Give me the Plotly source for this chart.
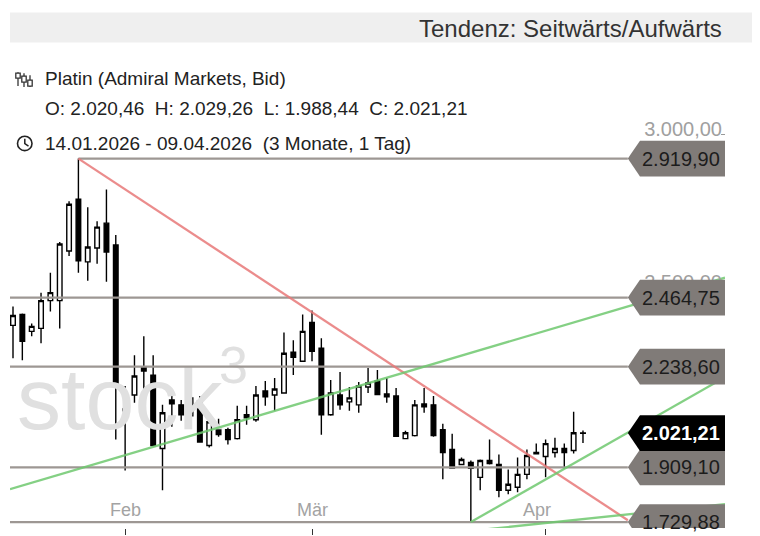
import plotly.graph_objects as go

# ---------------- data ----------------
idx = list(range(62))
opens = [2373.7, 2409.4, 2354.2, 2363.9, 2455.0, 2455.0, 2617.5, 2786.6, 2581.8, 2627.3,
         2708.6, 2637.1, 2100.6, 2146.1, 2237.1, 2211.1, 1970.5, 2129.8, 2113.6, 2077.8,
         2126.6, 1980.3, 2035.5, 2032.3, 2003.0, 2081.1, 2064.8, 2159.1, 2146.1, 2152.6,
         2285.9, 2256.6, 2383.4, 2298.9, 2081.1, 2146.1, 2123.3, 2113.6, 2172.1, 2191.6,
         2149.3, 2142.8, 2003.0, 2012.8, 2116.8, 2113.6, 2032.3, 1967.3, 1918.5, 1925.0,
         1876.2, 1931.5, 1918.5, 1834.0, 1843.7, 1886.0, 1957.5, 1944.5, 1957.5, 1970.5,
         1964.0, 2020.46]
highs = [2435.5, 2412.7, 2380.2, 2481.0, 2546.0, 2646.8, 2780.1, 2919.90, 2760.6, 2715.1,
         2819.1, 2669.6, 2175.4, 2276.1, 2337.9, 2276.1, 2113.6, 2146.1, 2129.8, 2194.9,
         2142.8, 2087.6, 2068.1, 2038.8, 2110.3, 2110.3, 2175.4, 2191.6, 2201.4, 2350.9,
         2324.9, 2409.4, 2422.5, 2331.4, 2194.9, 2220.9, 2172.1, 2188.4, 2233.9, 2227.4,
         2201.4, 2168.9, 2029.0, 2129.8, 2168.9, 2142.8, 2051.8, 2019.3, 1941.3, 1931.5,
         1934.8, 1999.8, 1951.0, 1902.2, 1941.3, 1967.3, 1986.8, 1999.8, 2006.3, 1986.8,
         2090.8, 2029.26]
lows = [2266.4, 2259.9, 2337.9, 2315.2, 2419.2, 2363.9, 2601.3, 2546.0, 2520.0, 2575.3,
        2516.8, 1999.8, 1899.0, 2120.1, 2162.4, 1978.0, 1834.0, 2042.0, 2061.6, 2071.3,
        1990.0, 1973.8, 2009.5, 1983.5, 1999.8, 2048.6, 2058.3, 2110.3, 2094.1, 2150.0,
        2211.1, 2254.0, 2256.6, 2016.0, 2078.0, 2097.3, 2094.1, 2087.6, 2152.6, 2146.1,
        2120.1, 2009.5, 2001.0, 2010.0, 2087.6, 2009.5, 1869.7, 1905.5, 1917.0, 1729.88,
        1834.0, 1918.5, 1811.2, 1820.9, 1827.4, 1869.7, 1951.0, 1876.2, 1941.3, 1905.5,
        1954.3, 1988.44]
closes = [2406.2, 2321.7, 2370.4, 2455.0, 2481.0, 2640.3, 2770.4, 2585.0, 2630.6, 2695.6,
          2614.3, 2178.6, 2094.1, 2207.9, 2224.1, 1980.3, 2087.6, 2116.8, 2081.1, 2136.3,
          1992.0, 2058.3, 2016.0, 1999.8, 2064.8, 2071.3, 2146.1, 2139.6, 2165.6, 2282.7,
          2269.6, 2354.2, 2289.2, 2081.1, 2152.6, 2113.6, 2136.3, 2175.4, 2185.1, 2147.0,
          2139.6, 2011.0, 2022.5, 2113.6, 2107.1, 2012.8, 1957.5, 1907.0, 1934.8, 1905.5,
          1931.5, 1921.8, 1834.0, 1853.5, 1886.0, 1947.8, 1953.0, 1986.8, 1970.5, 1957.5,
          2022.5, 2021.21]

month_tick_idx = [12, 32, 57]
month_label_idx = [12.0, 32.0, 56.1]
month_labels = ["Feb", "Mär", "Apr"]

levels = [2919.90, 2464.75, 2238.60, 1909.10, 1729.88]
level_labels = ["2.919,90", "2.464,75", "2.238,60", "1.909,10", "1.729,88"]
level_start_idx = [7, -0.32, -0.32, -0.32, -0.32]
last_price = 2021.21
last_label = "2.021,21"

red_x = [7, 65.8]
red_y = [2919.90, 1736.0]
green1_x = [-0.32, 76.2]
green1_y = [1837.2, 2530.0]
green2_x = [49, 76.2]
green2_y = [1729.88, 2204.0]
green3_x = [40, 76.2]
green3_y = [1671.8, 1788.4]

axis_ticks = [2000, 2500, 3000]

title_text = "Tendenz: Seitwärts/Aufwärts"
legend_1 = "Platin (Admiral Markets, Bid)"
legend_2 = "O: 2.020,46\u00a0\u00a0H: 2.029,26\u00a0\u00a0L: 1.988,44\u00a0\u00a0C: 2.021,21"
legend_3 = "14.01.2026 - 09.04.2026\u00a0\u00a0(3 Monate, 1 Tag)"
watermark_main = "stock"
watermark_sup = "3"

# ---------------- layout geometry ----------------
# page body has an 8px margin, so the figure is 8px smaller and every
# reference position is shifted by that amount.
W, H = 752, 528
ML, MR, MT, MB = 2, 35, 92, 5
X0, X1 = -0.321, 76.199
Y0, Y1 = 1710.4, 3111.75
TIP = 65.8
TAG_L = 67.1
PX_PRICE = (Y1 - Y0) / (H - MT - MB)  # price per px
TAG_H = 18 * PX_PRICE

SANS = "Liberation Sans, Arial, sans-serif"

def pxx(px):  # reference-pixel x -> paper
    return (px - 10) / 715.0

def pxy(py):  # reference-pixel y -> paper
    return (531 - py) / 431.0

def ppx(px):  # reference-pixel x -> data x
    return (px - 13) / 9.344

def ppy(py):  # reference-pixel y -> data y
    return 3436.87 - 3.2514 * py

fig = go.Figure()

# watermark (below everything)
fig.add_trace(go.Scatter(
    x=[ppx(17)], y=[ppy(409)], mode="text", text=[watermark_main],
    textposition="middle right",
    textfont=dict(family=SANS, size=88, color="#e0e0e0"),
    hoverinfo="skip", showlegend=False))
fig.add_trace(go.Scatter(
    x=[ppx(219)], y=[ppy(372)], mode="text", text=[watermark_sup],
    textposition="middle right",
    textfont=dict(family=SANS, size=52, color="#e0e0e0"),
    hoverinfo="skip", showlegend=False))

# horizontal levels
for lv, sx in zip(levels, level_start_idx):
    fig.add_trace(go.Scatter(x=[sx, TIP], y=[lv, lv], mode="lines",
                             line=dict(color="#9d9793", width=2.2),
                             hoverinfo="skip", showlegend=False))

# trend lines
for xs, ys, col in [(red_x, red_y, "rgba(232,120,120,0.85)"),
                    (green1_x, green1_y, "rgba(110,200,110,0.85)"),
                    (green2_x, green2_y, "rgba(110,200,110,0.85)"),
                    (green3_x, green3_y, "rgba(110,200,110,0.85)")]:
    fig.add_trace(go.Scatter(x=xs, y=ys, mode="lines",
                             line=dict(color=col, width=2.3),
                             hoverinfo="skip", showlegend=False))

fig.add_trace(go.Candlestick(
    x=idx, open=opens, high=highs, low=lows, close=closes,
    increasing=dict(fillcolor="white", line=dict(color="black", width=1.4)),
    decreasing=dict(fillcolor="black", line=dict(color="black", width=1.4)),
    whiskerwidth=0, showlegend=False, hoverinfo="skip"))

shapes = []
annotations = []

# price tags
def tag(y, fill, text, fcolor, bold=False):
    path = (f"M {TIP},{y} L {TAG_L},{y + TAG_H} L {X1},{y + TAG_H} "
            f"L {X1},{y - TAG_H} L {TAG_L},{y - TAG_H} Z")
    shapes.append(dict(type="path", xref="x", yref="y", path=path,
                       fillcolor=fill, line=dict(width=0), layer="above"))
    annotations.append(dict(x=ppx(681), y=y, xref="x", yref="y",
                            text=(f"<b>{text}</b>" if bold else text),
                            showarrow=False, xanchor="center", yanchor="middle",
                            font=dict(family=SANS, size=20, color=fcolor)))

for lv, lab in zip(levels, level_labels):
    tag(lv, "#807b78", lab, "#1c1c1c")
tag(last_price, "#000000", last_label, "#ffffff", bold=True)

# header band
shapes.append(dict(type="rect", xref="paper", yref="paper",
                   x0=pxx(10), x1=pxx(752), y0=pxy(42), y1=pxy(12),
                   fillcolor="#efefef", line=dict(width=0), layer="above"))
annotations.append(dict(x=pxx(724), y=pxy(28), xref="paper", yref="paper",
                        text=title_text, showarrow=False, xanchor="right", yanchor="middle",
                        font=dict(family=SANS, size=24, color="#333333")))

# legend texts
for txt, py in [(legend_1, 78), (legend_2, 109), (legend_3, 144)]:
    annotations.append(dict(x=pxx(43), y=pxy(py), xref="paper", yref="paper",
                            text=txt, showarrow=False, xanchor="left", yanchor="middle",
                            font=dict(family=SANS, size=19, color="#222222")))

# candle icon
for cx, w0, w1, b0, b1 in [(18, 72, 86, 73, 78), (24, 73, 87, 76, 82), (30, 75, 87, 80, 86)]:
    shapes.append(dict(type="line", xref="paper", yref="paper",
                       x0=pxx(cx), x1=pxx(cx), y0=pxy(w0), y1=pxy(w1),
                       line=dict(color="#333", width=1.3)))
    shapes.append(dict(type="rect", xref="paper", yref="paper",
                       x0=pxx(cx - 2.2), x1=pxx(cx + 2.2), y0=pxy(b0), y1=pxy(b1),
                       fillcolor="white", line=dict(color="#333", width=1.3)))

# clock icon
shapes.append(dict(type="circle", xref="paper", yref="paper",
                   x0=pxx(17.5), x1=pxx(32), y0=pxy(136.5), y1=pxy(151),
                   line=dict(color="#222", width=1.6)))
shapes.append(dict(type="path", xref="paper", yref="paper",
                   path=f"M {pxx(24.8)},{pxy(139)} L {pxx(24.8)},{pxy(144)} L {pxx(28.5)},{pxy(146.5)}",
                   line=dict(color="#222", width=1.5)))

# month labels
for mi, ml in zip(month_label_idx, month_labels):
    annotations.append(dict(x=mi, y=pxy(513), xref="x", yref="paper", text=ml,
                            showarrow=False, xanchor="center", yanchor="middle",
                            font=dict(family=SANS, size=18, color="#a3a3a3")))

fig.update_layout(
    width=W, height=H,
    margin=dict(l=ML, r=MR, t=MT, b=MB),
    paper_bgcolor="white", plot_bgcolor="white",
    separators=",.",
    showlegend=False,
    shapes=shapes, annotations=annotations,
    xaxis=dict(range=[X0, X1], showgrid=False, zeroline=False, showline=False,
               tickvals=month_tick_idx, ticks="outside", ticklen=6, tickcolor="#333",
               tickwidth=1.3, showticklabels=False, rangeslider=dict(visible=False),
               fixedrange=True),
    yaxis=dict(range=[Y0, Y1], side="right", showgrid=False, zeroline=False, showline=False,
               tickvals=axis_ticks, tickformat=",.2f", ticklabelposition="inside",
               ticks="inside", ticklen=4, tickcolor="#999", ticklabelshift=-5,
               tickfont=dict(family=SANS, size=20, color="#a0a0a0"), fixedrange=True),
)

fig.write_html("out.html")
